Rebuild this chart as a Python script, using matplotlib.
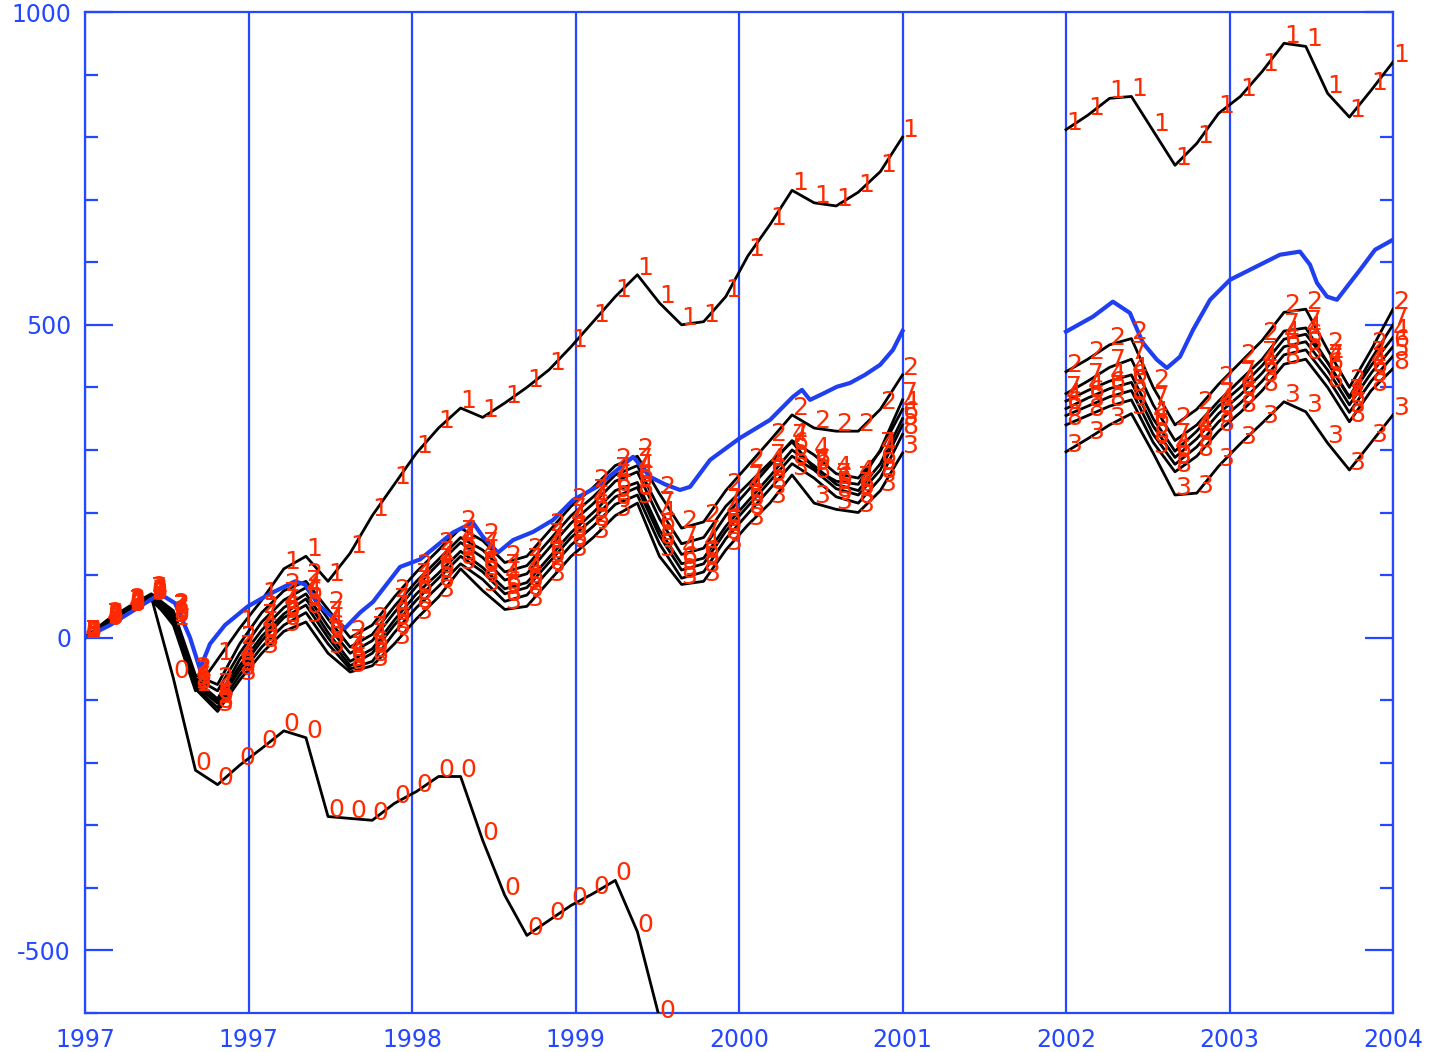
import numpy as np
import matplotlib
matplotlib.use("Agg")
import matplotlib.pyplot as plt
from matplotlib.ticker import MultipleLocator

plt.rcParams['font.family'] = ['DejaVu Sans']

# ---------------------------------------------------------------- data
# sampling dates of the two periods (decimal years)
dates_a = np.linspace(1997.0, 2001.375, 38)
dates_b = np.linspace(2002.25, 2004.0, 16)

# strategy curves, first period
s0_a = [0, 20, 45, 65, -65, -212, -235, -204, -177, -149, -160, -286, -289, -292,
        -265, -246, -222, -222, -324, -412, -476, -452, -428, -409, -388, -470,
        -608, -720]
s1_a = [0, 25, 45, 65, 20, -85, -35, 15, 60, 110, 130, 90, 135, 195, 245, 295, 335,
        367, 352, 375, 400, 428, 465, 505, 545, 580, 535, 500, 505, 545, 610, 660,
        715, 695, 690, 712, 745, 800]
s2_a = [0, 28, 50, 70, 43, -60, -75, -10, 40, 75, 90, 45, 0, 20, 65, 105, 140, 175,
        155, 120, 130, 170, 210, 240, 275, 290, 230, 175, 185, 235, 275, 315, 356,
        335, 330, 330, 365, 420]
s3_a = [0, 22, 42, 60, 25, -82, -118, -68, -25, 10, 25, -25, -55, -45, -10, 30, 65,
        110, 75, 45, 50, 90, 130, 160, 195, 215, 130, 85, 90, 140, 180, 215, 260,
        215, 205, 200, 235, 295]
s4_a = [0, 24, 46, 66, 38, -68, -98, -35, 12, 48, 70, 18, -25, -5, 40, 82, 118, 152,
        128, 92, 102, 143, 183, 214, 250, 265, 190, 133, 143, 195, 235, 275, 315,
        292, 262, 255, 298, 365]
s5_a = [0, 24, 44, 63, 30, -76, -105, -52, -5, 32, 52, 0, -45, -25, 20, 60, 95, 130,
        105, 70, 80, 120, 160, 190, 225, 240, 163, 108, 118, 170, 210, 250, 290,
        268, 238, 228, 268, 340]
s6_a = [0, 25, 44, 64, 33, -72, -100, -45, 2, 38, 62, 8, -38, -18, 28, 70, 103, 138,
        112, 78, 88, 128, 168, 200, 235, 248, 172, 118, 127, 178, 218, 258, 300,
        275, 245, 235, 278, 350]
s7_a = [0, 27, 48, 68, 40, -65, -85, -25, 25, 60, 80, 30, -15, 5, 50, 90, 125, 160,
        140, 105, 115, 155, 195, 225, 260, 275, 205, 150, 160, 210, 245, 280, 313,
        270, 250, 245, 300, 380]
s8_a = [0, 23, 43, 62, 28, -80, -112, -60, -15, 20, 40, -10, -50, -38, 8, 48, 82,
        118, 93, 58, 68, 108, 148, 178, 213, 228, 150, 95, 105, 158, 198, 238, 278,
        255, 225, 215, 255, 325]

# strategy curves, second period
s1_b = [812, 835, 862, 865, 810, 755, 790, 838, 865, 905, 950, 945, 870, 832, 875, 920]
s2_b = [425, 445, 468, 478, 400, 340, 365, 405, 440, 475, 520, 525, 460, 400, 460, 525]
s3_b = [297, 318, 340, 358, 295, 228, 231, 274, 310, 343, 377, 361, 311, 268, 312, 356]
s4_b = [378, 395, 410, 420, 350, 298, 330, 370, 400, 435, 477, 485, 440, 383, 435, 480]
s5_b = [355, 370, 385, 395, 325, 277, 305, 345, 375, 410, 452, 460, 415, 360, 410, 450]
s6_b = [366, 383, 398, 408, 338, 288, 318, 358, 388, 423, 465, 473, 428, 372, 423, 465]
s7_b = [390, 410, 432, 445, 372, 315, 340, 378, 412, 445, 490, 495, 440, 385, 445, 500]
s8_b = [340, 355, 370, 380, 312, 265, 290, 330, 360, 395, 437, 445, 400, 345, 395, 430]

# benchmark curve
bench_dates_a = [1997.000, 1997.134, 1997.268, 1997.401, 1997.482, 1997.562, 1997.615,
                 1997.669, 1997.749, 1997.872, 1997.990, 1998.124, 1998.177, 1998.258,
                 1998.391, 1998.472, 1998.541, 1998.686, 1998.793, 1998.969, 1999.076,
                 1999.130, 1999.210, 1999.291, 1999.398, 1999.505, 1999.612, 1999.740,
                 1999.933, 2000.024, 2000.104, 2000.184, 2000.238, 2000.345, 2000.505,
                 2000.666, 2000.789, 2000.837, 2000.880, 2000.950, 2001.024, 2001.094,
                 2001.174, 2001.255, 2001.324, 2001.375]
bench_a = [0, 20, 45, 70, 55, 0, -50, -10, 20, 50, 70, 90, 85, 50, 15, 40, 57, 113,
           125, 168, 184, 161, 136, 156, 169, 188, 220, 241, 289, 257, 245, 236, 241,
           284, 319, 348, 385, 396, 380, 390, 401, 407, 420, 436, 460, 490]
bench_dates_b = [2002.250, 2002.394, 2002.501, 2002.592, 2002.662, 2002.737, 2002.790,
                 2002.860, 2002.930, 2003.021, 2003.128, 2003.288, 2003.395, 2003.502,
                 2003.556, 2003.593, 2003.647, 2003.700, 2003.754, 2003.824, 2003.904,
                 2004.000]
bench_b = [489, 513, 537, 519, 471, 444, 431, 449, 492, 540, 572, 596, 612, 617, 596,
           567, 545, 540, 561, 588, 620, 636]

x_tick_pos = [1997.0, 1997.875, 1998.75, 1999.625, 2000.5, 2001.375, 2002.25,
              2003.125, 2004.0]
x_tick_labels = ["1997", "1997", "1998", "1999", "2000", "2001", "2002", "2003", "2004"]
y_tick_pos = [-500, 0, 500, 1000]
y_tick_labels = ["-500", "0", "500", "1000"]

# ---------------------------------------------------------------- styles
AX_BLUE = '#2447ff'
LINE_BLUE = '#1f3ff0'
MARK_RED = '#ff2a00'

fig = plt.figure(figsize=(14.31, 10.52), dpi=100)
ax = fig.add_axes([85 / 1431, 1 - 1013 / 1052, (1393 - 85) / 1431, (1013 - 12) / 1052])
ax.set_xlim(1997.0, 2004.0)
ax.set_ylim(-600, 1000)

curves = [
    ("0", dates_a[:len(s0_a)], s0_a),
    ("1", dates_a, s1_a), ("1", dates_b, s1_b),
    ("2", dates_a, s2_a), ("2", dates_b, s2_b),
    ("3", dates_a, s3_a), ("3", dates_b, s3_b),
    ("4", dates_a, s4_a), ("4", dates_b, s4_b),
    ("5", dates_a, s5_a), ("5", dates_b, s5_b),
    ("6", dates_a, s6_a), ("6", dates_b, s6_b),
    ("7", dates_a, s7_a), ("7", dates_b, s7_b),
    ("8", dates_a, s8_a), ("8", dates_b, s8_b),
]

for _, xs, ys in curves:
    ax.plot(xs, ys, color='black', lw=2.0, zorder=3)

ax.plot(bench_dates_a, bench_a, color=LINE_BLUE, lw=3.0, zorder=4)
ax.plot(bench_dates_b, bench_b, color=LINE_BLUE, lw=3.0, zorder=4)

ymin, ymax = ax.get_ylim()
for tag, xs, ys in curves:
    for xv, yv in zip(xs, ys):
        if ymin - 20 <= yv <= ymax:
            ax.text(xv, yv, tag, color=MARK_RED, fontsize=18, ha='left',
                    va='baseline', zorder=5, clip_on=False)

# axes, ticks and year grid
for sp in ax.spines.values():
    sp.set_color(AX_BLUE)
    sp.set_linewidth(1.6)

ax.set_xticks(x_tick_pos)
ax.set_xticklabels(x_tick_labels)
ax.set_yticks(y_tick_pos)
ax.set_yticklabels(y_tick_labels)
ax.yaxis.set_minor_locator(MultipleLocator(100))
ax.grid(True, axis='x', color=AX_BLUE, lw=1.6, zorder=1)
ax.set_axisbelow(True)

ax.tick_params(axis='x', which='both', length=0, pad=11, labelsize=17,
               labelcolor=AX_BLUE)
ax.tick_params(axis='y', which='major', direction='in', left=True, right=True,
               length=20, width=1.6, color=AX_BLUE, labelsize=17,
               labelcolor=AX_BLUE, pad=10)
ax.tick_params(axis='y', which='minor', direction='in', left=True, right=True,
               length=9.5, width=1.6, color=AX_BLUE)

fig.savefig('out.png', dpi=100, facecolor='white')
